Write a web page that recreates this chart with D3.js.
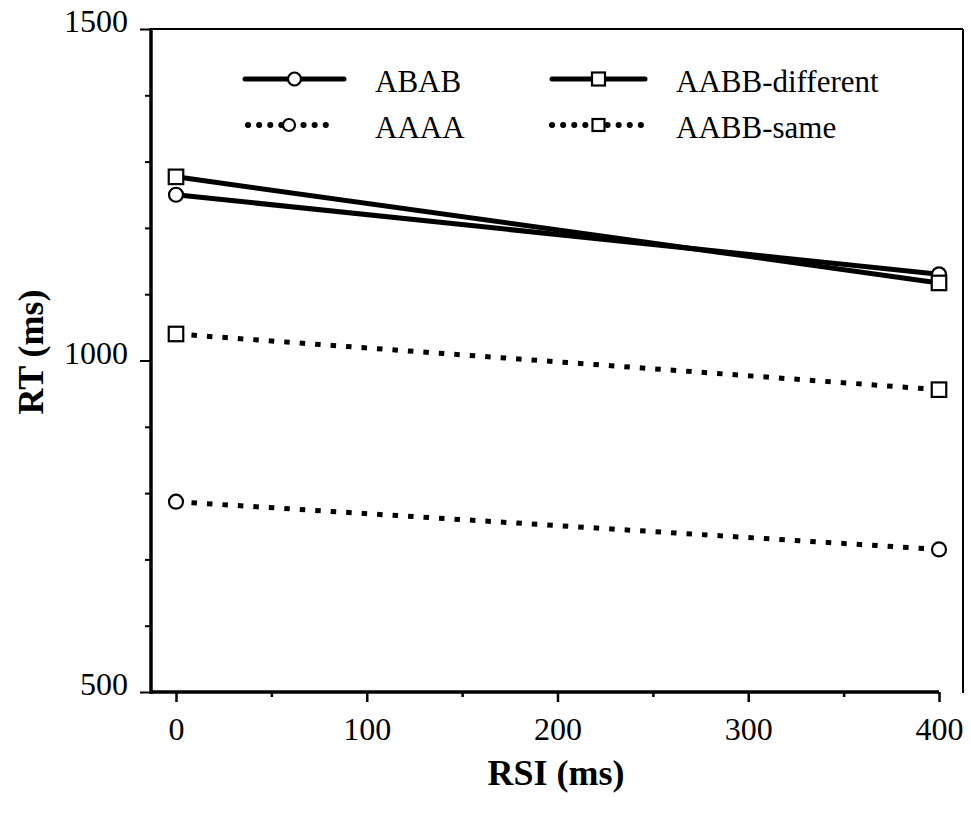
<!DOCTYPE html>
<html>
<head>
<meta charset="utf-8">
<script src="https://cdn.jsdelivr.net/npm/d3@7"></script>
<style>
  html, body { margin: 0; padding: 0; background: #fff; }
  svg { display: block; }
  svg text { font-family: "Liberation Serif", "Times New Roman", serif !important; fill: #000; }
</style>
</head>
<body>
<script>
// RSI conditions (ms)
const rsi = [0, 400];

// Series names and RT values (ms)
const seriesNames = ["ABAB", "AABB-different", "AAAA", "AABB-same"];
const abab = [1250, 1130];
const aabbDifferent = [1277, 1117];
const aaaa = [787, 715];
const aabbSame = [1040, 956];

// Axis ticks
const xTicksMajor = [0, 100, 200, 300, 400];
const xTicksMinor = [50, 150, 250, 350];
const yTicksMajor = [500, 1000, 1500];
const yTicksMinor = [600, 700, 800, 900, 1100, 1200, 1300, 1400];

const SERIF = "Liberation Serif";
const W = 971, H = 820;
const svg = d3.select("body").append("svg").attr("width", W).attr("height", H)
  .attr("font-family", SERIF);

const x = d3.scaleLinear().domain([0, 400]).range([176, 939]);
const y = d3.scaleLinear().domain([500, 1500]).range([692, 29]);

const frameLeft = 151, frameRight = 963;

// Frame: thin top and right borders
svg.append("line").attr("x1", frameLeft).attr("x2", frameRight)
  .attr("y1", y(1500)).attr("y2", y(1500)).attr("stroke", "#000").attr("stroke-width", 2);
svg.append("line").attr("x1", frameRight).attr("x2", frameRight)
  .attr("y1", y(1500)).attr("y2", y(500) + 1).attr("stroke", "#000").attr("stroke-width", 2);

// Y axis
const fmt = d3.format("d");
const yAxisMajor = d3.axisLeft(y).tickValues(yTicksMajor).tickSize(11).tickPadding(12)
  .tickSizeOuter(0).tickFormat(fmt);
const yAxisMinor = d3.axisLeft(y).tickValues(yTicksMinor).tickSize(6).tickFormat("").tickSizeOuter(0);
const gy = svg.append("g").attr("transform", `translate(${frameLeft},0)`).call(yAxisMajor);
const gym = svg.append("g").attr("transform", `translate(${frameLeft},0)`).call(yAxisMinor);
gy.select(".domain").remove();
gym.select(".domain").remove();
gy.attr("font-family", SERIF);
gy.selectAll("g.tick line").attr("stroke-width", 2);
gym.selectAll("g.tick line").attr("stroke-width", 2);
gy.selectAll("text").attr("font-size", 32).attr("dy", "0.3em")
  .attr("font-family", SERIF).attr("transform", "translate(0,-7)");

svg.append("line").attr("x1", frameLeft).attr("x2", frameLeft)
  .attr("y1", y(1500) - 1).attr("y2", y(500) + 2).attr("stroke", "#000").attr("stroke-width", 3.5);

// X axis
const xAxisMajor = d3.axisBottom(x).tickValues(xTicksMajor).tickSize(10).tickPadding(20)
  .tickSizeOuter(0).tickFormat(fmt);
const xAxisMinor = d3.axisBottom(x).tickValues(xTicksMinor).tickSize(5).tickFormat("").tickSizeOuter(0);
const gx = svg.append("g").attr("transform", `translate(0,${y(500)})`).call(xAxisMajor);
const gxm = svg.append("g").attr("transform", `translate(0,${y(500)})`).call(xAxisMinor);
gx.select(".domain").remove();
gxm.select(".domain").remove();
gx.attr("font-family", SERIF);
gx.selectAll("g.tick line").attr("stroke-width", 2.5);
gxm.selectAll("g.tick line").attr("stroke-width", 2.5);
gx.selectAll("text").attr("font-size", 32).attr("dy", "0.55em").attr("font-family", SERIF);

svg.append("line").attr("x1", frameLeft).attr("x2", x(400))
  .attr("y1", y(500)).attr("y2", y(500)).attr("stroke", "#000").attr("stroke-width", 3.5);

// Axis titles
svg.append("text").attr("transform", `translate(43,352) rotate(-90)`)
  .attr("text-anchor", "middle").attr("font-size", 36).attr("font-weight", "bold")
  .attr("font-family", SERIF).text("RT (ms)");
svg.append("text").attr("x", 556).attr("y", 785)
  .attr("text-anchor", "middle").attr("font-size", 36).attr("font-weight", "bold")
  .attr("font-family", SERIF).text("RSI (ms)");

// Series definitions
const series = [
  { name: seriesNames[0], values: abab, marker: "circle", dotted: false },
  { name: seriesNames[1], values: aabbDifferent, marker: "square", dotted: false },
  { name: seriesNames[2], values: aaaa, marker: "circle", dotted: true },
  { name: seriesNames[3], values: aabbSame, marker: "square", dotted: true }
];

const line = d3.line().x((d, i) => x(rsi[i])).y(d => y(d));

function drawMarker(g, type, cx, cy, size) {
  if (type === "circle") {
    g.append("circle").attr("cx", cx).attr("cy", cy).attr("r", size / 2)
      .attr("fill", "#fff").attr("stroke", "#000").attr("stroke-width", 2.2);
  } else {
    g.append("rect").attr("x", cx - size / 2).attr("y", cy - size / 2)
      .attr("width", size).attr("height", size)
      .attr("fill", "#fff").attr("stroke", "#000").attr("stroke-width", 2.2);
  }
}

const plot = svg.append("g");
series.forEach(s => {
  plot.append("path").datum(s.values).attr("d", line)
    .attr("fill", "none").attr("stroke", "#000")
    .attr("stroke-width", s.dotted ? 5 : 5)
    .attr("stroke-dasharray", s.dotted ? "5.5,10" : null);
});
series.forEach(s => {
  s.values.forEach((v, i) => drawMarker(plot, s.marker, x(rsi[i]), y(v), s.marker === "circle" ? 14 : 14.5));
});

// Legend
const legendItems = [
  { s: series[0], x0: 245, x1: 344, yl: 79 },
  { s: series[1], x0: 552, x1: 645, yl: 79 },
  { s: series[2], x0: 248, x1: 330, yl: 125 },
  { s: series[3], x0: 552, x1: 645, yl: 125 }
];
const legend = svg.append("g");
legendItems.forEach(it => {
  const mid = (it.x0 + it.x1) / 2;
  legend.append("line").attr("x1", it.x0).attr("x2", it.x1).attr("y1", it.yl).attr("y2", it.yl)
    .attr("stroke", "#000")
    .attr("stroke-width", it.s.dotted ? 6 : 5)
    .attr("stroke-linecap", "round")
    .attr("stroke-dasharray", it.s.dotted ? "0.1,11" : null);
  drawMarker(legend, it.s.marker, mid, it.yl, it.s.dotted ? 12 : 13);
  legend.append("text").attr("x", it.x0 < 400 ? 375 : 676).attr("y", it.yl + 13)
    .attr("font-size", 31).attr("font-family", SERIF).text(it.s.name);
});
</script>
</body>
</html>
